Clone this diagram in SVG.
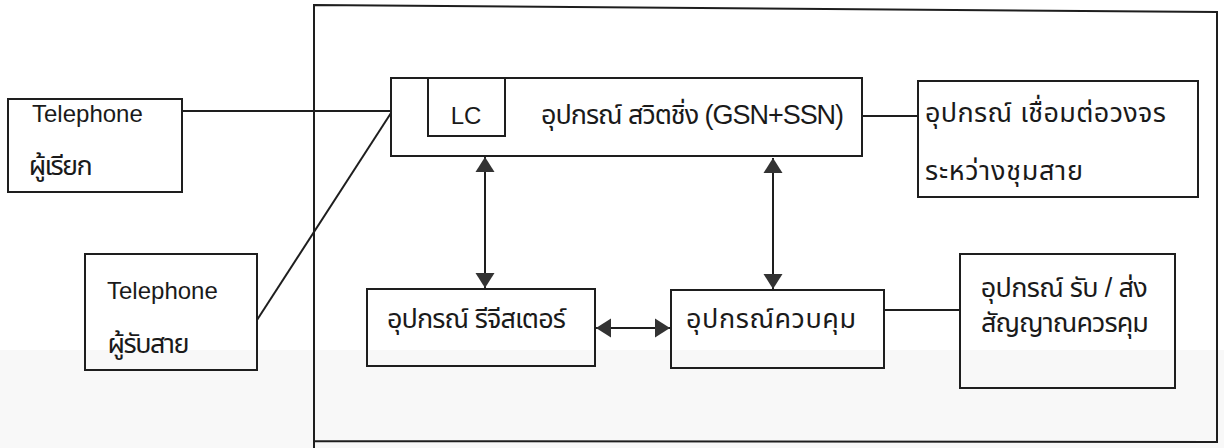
<svg xmlns="http://www.w3.org/2000/svg" width="1224" height="448" viewBox="0 0 1224 448">
<style>
.box{fill:none;stroke:#1e1e1e;stroke-width:2}
.ln{fill:none;stroke:#1e1e1e;stroke-width:2}
.t{font-family:'Liberation Sans','Noto Sans Thai','Noto Sans',sans-serif;font-size:24px;fill:#1a1a1a}
.th{font-family:'Liberation Sans','Noto Sans Thai','Noto Sans',sans-serif;font-size:27px;fill:#1a1a1a}
</style>
<defs>
<marker id="ah" markerUnits="userSpaceOnUse" markerWidth="16" markerHeight="20" viewBox="0 0 16 20" refX="15" refY="10" orient="auto-start-reverse">
<path d="M0,0.5 L15,10 L0,19.5 z" fill="#333"/>
</marker>
</defs>
<rect x="0" y="0" width="1224" height="448" fill="#ffffff"/>
<rect x="0" y="350" width="1224" height="98" fill="#f8f8f8"/>
<g id="frame"><path class="box" d="M314,5 L1217,12 L1217,442 L314,441 Z M314,441 L314,448"/></g>
<g id="tel-caller"><rect class="box" x="8" y="99" width="174" height="93"/><text class="t" x="32" y="122">Telephone</text><text class="th" x="27" y="175" textLength="64" lengthAdjust="spacing">ผู้เรียก</text></g>
<g id="tel-callee"><rect class="box" x="85" y="254" width="172" height="116"/><text class="t" x="107" y="299">Telephone</text><text class="th" x="106" y="353" textLength="82" lengthAdjust="spacing">ผู้รับสาย</text></g>
<g id="switch"><rect class="box" x="391" y="78" width="471" height="78"/><text class="th" x="540" y="124" textLength="303" lengthAdjust="spacing">อุปกรณ์ สวิตชิ่ง (GSN+SSN)</text></g>
<g id="lc"><rect class="box" x="428" y="78" width="77" height="58"/><text class="t" x="466" y="124" text-anchor="middle">LC</text></g>
<g id="trunk"><rect class="box" x="918" y="81" width="280" height="116"/><text class="th" x="925" y="122" textLength="241" lengthAdjust="spacing">อุปกรณ์ เชื่อมต่อวงจร</text><text class="th" x="925" y="180" textLength="158" lengthAdjust="spacing">ระหว่างชุมสาย</text></g>
<g id="register"><rect class="box" x="367" y="289" width="228" height="77"/><text class="th" x="386" y="328" textLength="179" lengthAdjust="spacing">อุปกรณ์ รีจีสเตอร์</text></g>
<g id="control"><rect class="box" x="671" y="290" width="213" height="78"/><text class="th" x="686" y="328" textLength="170" lengthAdjust="spacing">อุปกรณ์ควบคุม</text></g>
<g id="signal"><rect class="box" x="960" y="254" width="215" height="134"/><text class="th" x="980" y="297" textLength="167" lengthAdjust="spacing">อุปกรณ์ รับ / ส่ง</text><text class="th" x="980" y="332" textLength="168" lengthAdjust="spacing">สัญญาณควรคุม</text></g>
<g id="connectors">
<line class="ln" x1="182" y1="111" x2="391" y2="111"/>
<line class="ln" x1="257" y1="320" x2="391" y2="113"/>
<line class="ln" x1="862" y1="116" x2="918" y2="116"/>
<line class="ln" x1="884" y1="310" x2="960" y2="310"/>
<line class="ln" x1="485" y1="157" x2="485" y2="288" marker-start="url(#ah)" marker-end="url(#ah)"/>
<line class="ln" x1="773" y1="158" x2="773" y2="289" marker-start="url(#ah)" marker-end="url(#ah)"/>
<line class="ln" x1="596" y1="328" x2="670" y2="328" marker-start="url(#ah)" marker-end="url(#ah)"/>
</g>
</svg>
